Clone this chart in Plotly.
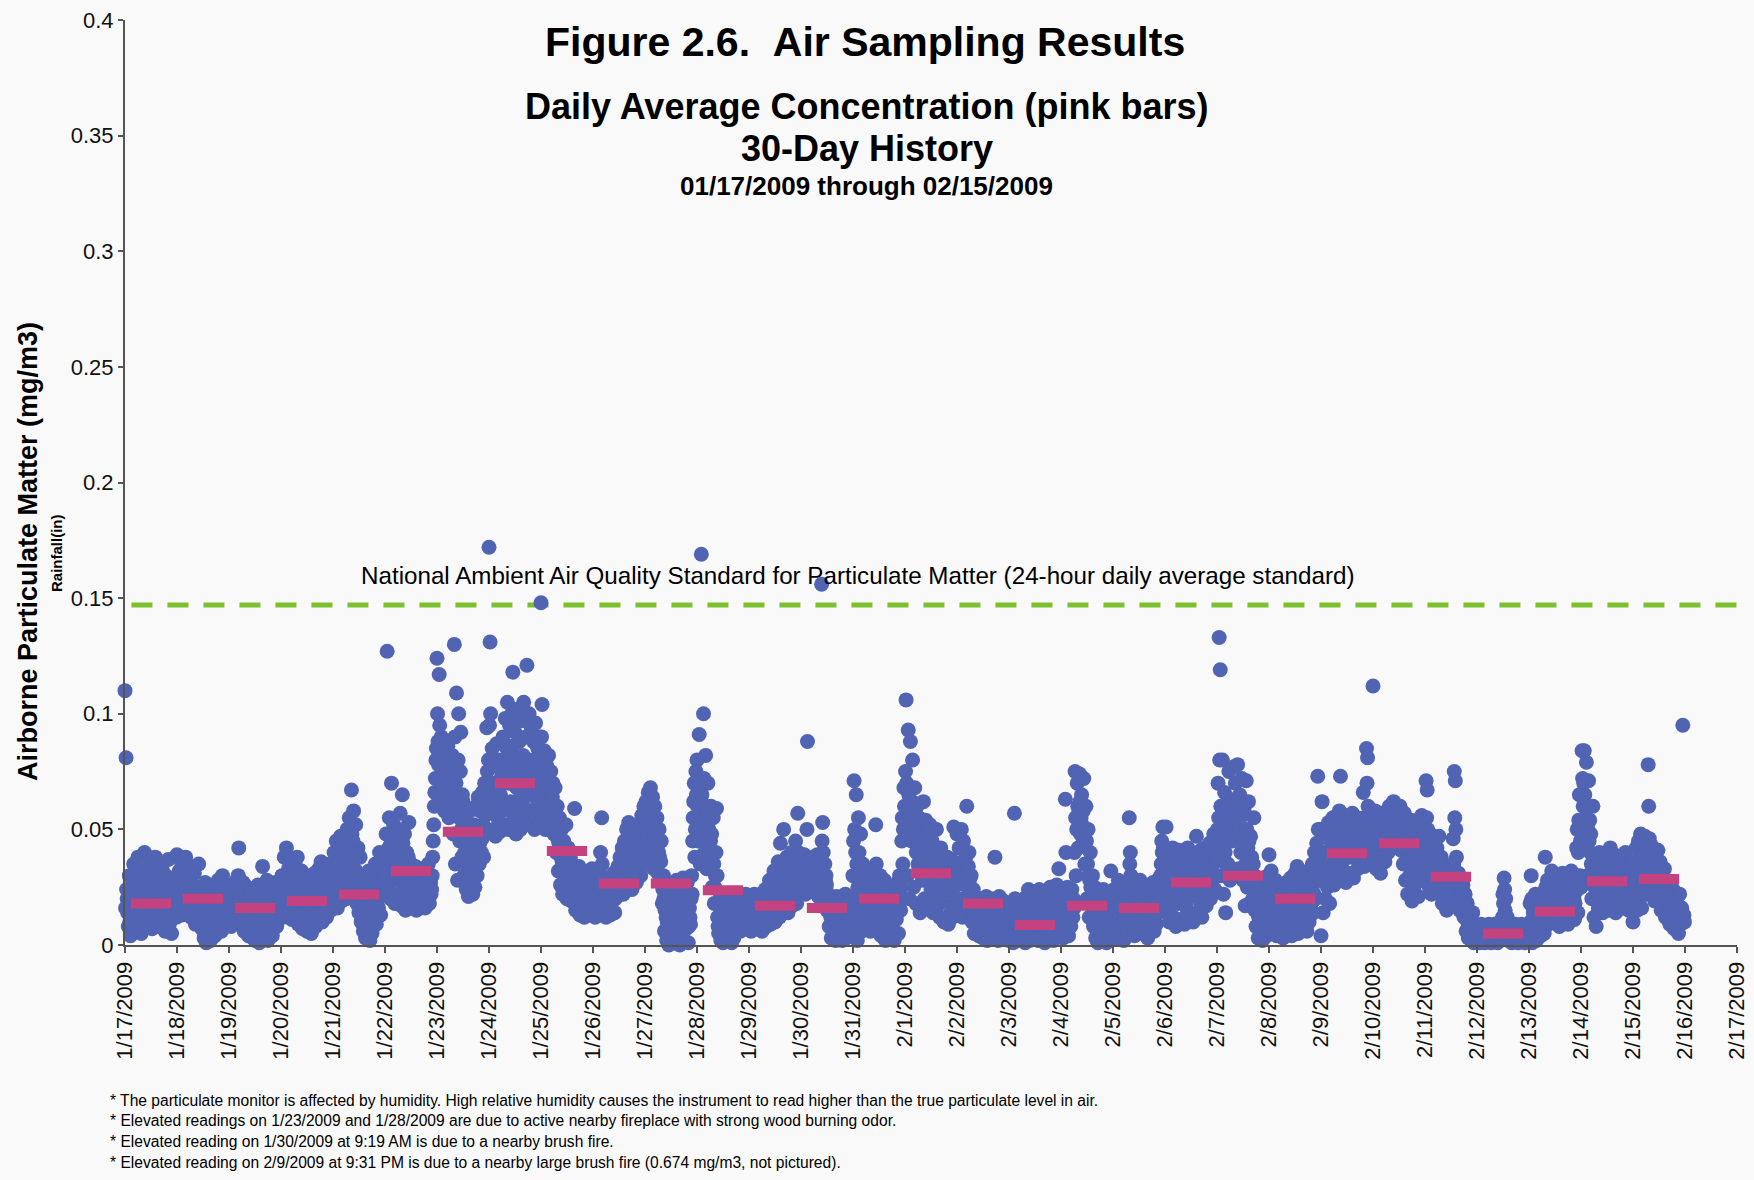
import plotly.graph_objects as go
import pandas as pd

# ---------------- data ----------------
tick_labels = ["1/17/2009", "1/18/2009", "1/19/2009", "1/20/2009", "1/21/2009", "1/22/2009",
               "1/23/2009", "1/24/2009", "1/25/2009", "1/26/2009", "1/27/2009", "1/28/2009",
               "1/29/2009", "1/30/2009", "1/31/2009", "2/1/2009", "2/2/2009", "2/3/2009",
               "2/4/2009", "2/5/2009", "2/6/2009", "2/7/2009", "2/8/2009", "2/9/2009",
               "2/10/2009", "2/11/2009", "2/12/2009", "2/13/2009", "2/14/2009", "2/15/2009",
               "2/16/2009", "2/17/2009"]

# daily average concentration (mg/m3), 1/17 .. 2/15 (pink bars)
daily_avg = [0.018, 0.020, 0.016, 0.019, 0.0218, 0.032, 0.049, 0.070, 0.0406, 0.0266,
             0.0266, 0.0237, 0.017, 0.016, 0.020, 0.031, 0.018, 0.0087, 0.017, 0.016,
             0.027, 0.030, 0.020, 0.0397, 0.044, 0.0295, 0.005, 0.0145, 0.0276, 0.0285]

# readings on the hour / half hour, micrograms/m3 (48 per day), 1/17 .. 2/15
readings_ug = [
    [110, 81, 20, 8, 30, 4, 25, 12, 35, 6, 28, 15, 38, 10, 32, 5, 26, 14, 40, 9, 30, 18, 36, 11,
     27, 7, 33, 13, 38, 16, 29, 8, 24, 12, 34, 10, 31, 6, 26, 14, 37, 9, 22, 5, 29, 12, 20, 15],
    [39, 14, 32, 18, 36, 13, 28, 20, 38, 15, 30, 17, 34, 12, 26, 16, 31, 9, 24, 13, 35, 11, 22, 7,
     18, 3, 27, 1, 14, 5, 20, 2, 11, 6, 24, 4, 16, 8, 28, 10, 21, 6, 30, 12, 25, 9, 19, 14],
    [12, 20, 8, 26, 15, 22, 10, 28, 18, 42, 14, 24, 9, 27, 6, 21, 12, 25, 4, 18, 8, 23, 3, 16,
     2, 20, 5, 26, 1, 17, 7, 34, 3, 22, 6, 28, 2, 18, 9, 25, 4, 21, 11, 27, 8, 20, 13, 24],
    [15, 30, 12, 38, 18, 42, 14, 33, 20, 36, 11, 29, 17, 35, 13, 38, 9, 27, 16, 32, 7, 24, 12, 30,
     6, 22, 10, 28, 5, 19, 13, 31, 8, 25, 11, 33, 14, 36, 10, 30, 17, 34, 12, 28, 18, 35, 15, 31],
    [18, 40, 22, 45, 16, 36, 25, 47, 19, 38, 28, 44, 20, 50, 30, 55, 24, 67, 35, 58, 27, 52, 18, 42,
     14, 38, 10, 30, 6, 26, 3, 20, 8, 32, 2, 17, 5, 28, 12, 35, 9, 30, 16, 40, 13, 33, 22, 38],
    [30, 48, 127, 25, 55, 20, 70, 33, 52, 18, 45, 28, 50, 22, 57, 17, 65, 30, 48, 15, 40, 24, 53, 19,
     35, 16, 30, 21, 34, 15, 28, 19, 33, 17, 26, 22, 32, 16, 29, 20, 35, 18, 27, 24, 38, 52, 66, 80],
    [124, 88, 117, 72, 90, 65, 84, 58, 80, 62, 86, 55, 78, 60, 82, 48, 130, 35, 109, 28, 100, 45, 92, 38,
     62, 30, 55, 24, 48, 21, 58, 26, 44, 22, 52, 25, 60, 30, 64, 35, 58, 40, 66, 38, 70, 48, 94, 60],
    [172, 131, 60, 85, 50, 78, 47, 87, 55, 80, 49, 72, 58, 90, 52, 98, 60, 105, 50, 95, 62, 100, 118, 55,
     92, 48, 102, 57, 88, 50, 97, 62, 105, 53, 90, 121, 58, 100, 52, 94, 65, 88, 50, 96, 60, 85, 55, 90],
    [148, 104, 55, 84, 50, 78, 58, 82, 52, 75, 60, 70, 48, 68, 40, 60, 32, 55, 26, 50, 22, 45, 28, 52,
     20, 42, 24, 38, 19, 35, 23, 59, 15, 30, 18, 34, 13, 28, 16, 32, 12, 25, 17, 30, 14, 27, 19, 33],
    [14, 28, 12, 25, 18, 30, 13, 40, 55, 22, 15, 27, 12, 24, 16, 29, 13, 26, 19, 31, 14, 28, 21, 34,
     23, 38, 26, 42, 22, 45, 30, 50, 25, 53, 28, 46, 24, 40, 32, 48, 27, 44, 35, 52, 30, 56, 38, 60],
    [40, 62, 35, 66, 45, 68, 38, 64, 33, 60, 42, 55, 31, 50, 28, 45, 18, 30, 6, 25, 2, 20, 0, 15,
     4, 26, 1, 22, 8, 28, 3, 18, 0, 24, 5, 29, 2, 21, 7, 27, 1, 16, 9, 30, 45, 62, 38, 75],
    [80, 45, 91, 35, 169, 60, 100, 40, 82, 33, 70, 50, 38, 60, 25, 55, 18, 30, 59, 12, 5, 20, 2, 16,
     1, 18, 4, 22, 2, 15, 6, 20, 1, 17, 3, 21, 8, 22, 10, 19, 6, 21, 12, 18, 7, 22, 9, 20],
    [8, 20, 6, 18, 10, 22, 7, 17, 12, 21, 9, 19, 6, 22, 11, 24, 8, 20, 13, 28, 9, 25, 14, 32,
     10, 30, 16, 36, 12, 44, 18, 34, 50, 15, 28, 38, 14, 33, 20, 40, 17, 36, 22, 45, 18, 57, 25, 39],
    [24, 36, 28, 39, 22, 30, 88, 37, 25, 34, 29, 38, 23, 35, 27, 39, 21, 33, 28, 156, 53, 24, 35, 30,
     15, 22, 8, 18, 3, 20, 6, 16, 2, 21, 10, 14, 4, 19, 2, 13, 7, 22, 3, 17, 9, 12, 5, 20],
    [30, 71, 10, 65, 2, 55, 15, 48, 6, 35, 20, 28, 8, 26, 12, 31, 6, 24, 14, 29, 9, 52, 11, 27,
     7, 30, 4, 22, 10, 28, 2, 19, 6, 25, 3, 16, 8, 24, 2, 20, 11, 27, 5, 30, 15, 45, 35, 68],
    [50, 106, 30, 93, 20, 88, 45, 80, 25, 68, 18, 60, 35, 55, 14, 50, 28, 62, 20, 54, 16, 48, 30, 52,
     24, 45, 14, 40, 20, 50, 17, 36, 12, 42, 22, 38, 10, 35, 19, 38, 9, 33, 14, 37, 12, 51, 18, 34],
    [48, 14, 42, 20, 50, 12, 45, 18, 38, 60, 25, 40, 16, 30, 10, 24, 5, 21, 12, 18, 4, 20, 8, 15,
     3, 19, 9, 21, 2, 16, 7, 20, 4, 14, 10, 38, 6, 17, 2, 21, 9, 15, 3, 19, 8, 13, 11, 18],
    [2, 12, 5, 15, 1, 57, 10, 3, 14, 6, 11, 2, 16, 4, 20, 1, 18, 7, 24, 2, 21, 5, 19, 3,
     22, 6, 17, 2, 24, 4, 20, 8, 15, 1, 23, 5, 18, 3, 25, 7, 21, 2, 16, 9, 26, 4, 33, 10],
    [6, 22, 3, 18, 63, 10, 25, 4, 20, 8, 24, 12, 16, 75, 30, 70, 42, 74, 48, 65, 44, 72, 35, 60,
     20, 50, 12, 40, 18, 30, 8, 25, 3, 19, 1, 22, 6, 17, 2, 24, 9, 15, 1, 21, 5, 18, 32, 11],
    [8, 24, 3, 20, 12, 28, 5, 22, 10, 26, 2, 18, 14, 25, 6, 55, 40, 21, 9, 27, 4, 19, 11, 24,
     7, 28, 13, 22, 5, 26, 10, 20, 3, 25, 8, 23, 12, 27, 6, 21, 9, 28, 14, 24, 30, 45, 51, 35],
    [40, 51, 15, 38, 10, 35, 20, 42, 12, 30, 8, 37, 18, 41, 11, 33, 22, 40, 9, 36, 16, 42, 13, 29,
     21, 39, 10, 34, 25, 47, 14, 38, 19, 41, 12, 35, 23, 42, 17, 37, 26, 44, 20, 40, 28, 48, 24, 45],
    [40, 70, 133, 119, 30, 80, 22, 66, 14, 60, 35, 75, 28, 62, 45, 77, 30, 70, 50, 78, 33, 65, 40, 72,
     28, 58, 17, 71, 25, 62, 18, 47, 38, 20, 55, 15, 8, 24, 3, 18, 6, 26, 2, 15, 9, 22, 4, 30],
    [39, 10, 32, 5, 25, 12, 28, 4, 20, 14, 26, 7, 18, 3, 22, 11, 27, 6, 20, 15, 29, 4, 24, 9,
     31, 12, 34, 5, 26, 17, 30, 8, 22, 13, 28, 6, 32, 10, 25, 18, 35, 14, 40, 20, 44, 73, 30, 50],
    [4, 62, 14, 40, 20, 48, 25, 53, 18, 45, 30, 55, 26, 50, 32, 56, 28, 58, 73, 35, 54, 30, 52, 27,
     40, 56, 31, 50, 38, 57, 29, 53, 42, 55, 33, 48, 36, 54, 45, 66, 34, 52, 85, 81, 44, 57, 38, 55],
    [112, 40, 58, 33, 52, 37, 56, 31, 50, 42, 57, 36, 45, 58, 40, 60, 48, 56, 44, 62, 50, 59, 42, 57,
     46, 60, 41, 55, 35, 57, 28, 50, 22, 48, 30, 54, 19, 45, 25, 52, 33, 47, 21, 49, 28, 56, 35, 48],
    [30, 71, 67, 44, 25, 48, 22, 40, 28, 46, 24, 42, 30, 47, 23, 38, 18, 35, 20, 32, 15, 34, 22, 30,
     17, 33, 46, 75, 71, 38, 19, 31, 15, 28, 21, 26, 12, 22, 6, 18, 3, 13, 8, 5, 14, 1, 9, 4],
    [2, 8, 1, 6, 9, 3, 7, 1, 5, 8, 2, 9, 4, 1, 7, 3, 9, 2, 6, 1, 8, 4, 10, 3,
     22, 29, 15, 6, 12, 2, 8, 4, 1, 7, 3, 9, 2, 6, 1, 8, 4, 9, 3, 7, 1, 5, 8, 2],
    [3, 18, 30, 1, 14, 6, 22, 2, 16, 8, 20, 4, 12, 21, 5, 38, 15, 28, 9, 25, 14, 32, 10, 27,
     16, 30, 11, 26, 8, 24, 13, 31, 17, 28, 12, 25, 9, 27, 15, 32, 18, 29, 11, 23, 42, 14, 54, 30],
    [25, 84, 60, 84, 42, 79, 30, 71, 54, 48, 20, 60, 12, 38, 8, 35, 16, 40, 20, 33, 14, 37, 22, 30,
     18, 36, 15, 42, 24, 34, 17, 39, 14, 31, 26, 38, 19, 35, 16, 32, 25, 40, 21, 34, 15, 28, 23, 36],
    [10, 32, 18, 42, 15, 45, 20, 48, 16, 44, 25, 47, 22, 40, 78, 46, 24, 43, 28, 38, 19, 35, 26, 41,
     20, 36, 15, 30, 22, 33, 12, 28, 18, 25, 9, 27, 14, 24, 7, 21, 12, 18, 5, 22, 9, 16, 95, 13],
]

# readings at quarter past / quarter to, micrograms/m3 (48 per day), 1/17 .. 2/15
readings_ug_q = [
    [16, 24, 14, 20, 10, 18, 22, 15, 19, 11, 23, 17, 21, 27, 18, 24, 16, 30, 22, 26, 14, 20, 25, 19,
     17, 22, 26, 20, 28, 23, 18, 15, 21, 17, 25, 19, 18, 24, 16, 21, 26, 15, 13, 19, 16, 22, 17, 12],
    [25, 22, 27, 24, 29, 21, 33, 26, 24, 22, 27, 25, 22, 19, 25, 20, 18, 16, 21, 19, 24, 17, 14, 12,
     9, 12, 8, 15, 10, 7, 13, 8, 16, 11, 9, 12, 12, 18, 15, 20, 14, 17, 22, 19, 15, 21, 17, 18],
    [16, 14, 18, 19, 12, 17, 20, 22, 30, 19, 17, 15, 16, 12, 15, 18, 14, 10, 16, 12, 15, 10, 12, 8,
     11, 8, 14, 12, 10, 14, 21, 18, 12, 15, 16, 11, 10, 13, 16, 12, 14, 18, 16, 19, 13, 17, 18, 20],
    [22, 20, 26, 28, 30, 24, 22, 26, 27, 19, 21, 23, 25, 21, 26, 20, 18, 21, 24, 19, 15, 18, 20, 17,
     14, 16, 18, 13, 12, 21, 20, 17, 16, 22, 19, 24, 24, 21, 20, 23, 26, 22, 18, 24, 26, 22, 23, 25],
    [28, 32, 30, 26, 30, 33, 35, 30, 29, 34, 36, 32, 36, 40, 42, 38, 46, 48, 45, 40, 39, 32, 30, 26,
     25, 22, 19, 16, 15, 12, 11, 14, 19, 12, 9, 10, 16, 20, 22, 24, 18, 23, 26, 28, 22, 27, 30, 27],
    [38, 40, 35, 42, 37, 44, 40, 36, 30, 32, 36, 40, 35, 42, 38, 30, 44, 36, 28, 26, 32, 38, 34, 27,
     25, 22, 26, 24, 21, 23, 25, 26, 22, 24, 20, 27, 24, 22, 25, 27, 23, 26, 22, 30, 45, 60, 72, 85],
    [100, 78, 95, 70, 76, 73, 68, 70, 72, 66, 70, 68, 70, 72, 65, 75, 90, 70, 60, 80, 55, 75, 50, 65,
     45, 40, 38, 35, 30, 34, 40, 32, 30, 36, 38, 33, 42, 45, 48, 44, 50, 46, 52, 50, 56, 62, 75, 80],
    [95, 100, 70, 65, 62, 58, 64, 70, 68, 62, 65, 75, 70, 75, 80, 72, 85, 78, 70, 82, 75, 86, 80, 70,
     75, 68, 80, 72, 75, 65, 78, 82, 70, 76, 68, 100, 75, 80, 70, 78, 74, 68, 72, 80, 73, 70, 66, 75],
    [90, 75, 68, 64, 70, 62, 67, 65, 66, 62, 64, 58, 58, 55, 50, 46, 44, 40, 38, 36, 34, 32, 37, 40,
     30, 32, 28, 30, 27, 28, 26, 22, 24, 22, 25, 23, 20, 22, 24, 22, 18, 20, 23, 22, 20, 21, 24, 22],
    [20, 22, 18, 20, 24, 22, 26, 30, 35, 18, 21, 20, 17, 20, 22, 21, 19, 22, 24, 25, 20, 23, 26, 28,
     30, 32, 34, 33, 35, 36, 40, 42, 38, 40, 37, 36, 32, 34, 38, 40, 36, 38, 42, 46, 42, 48, 50, 55],
    [50, 54, 48, 56, 52, 58, 50, 54, 46, 50, 48, 42, 40, 38, 36, 30, 24, 20, 15, 12, 10, 8, 6, 8,
     12, 14, 10, 12, 16, 18, 10, 8, 12, 14, 16, 18, 10, 12, 15, 18, 8, 12, 20, 22, 55, 70, 50, 65],
    [60, 55, 70, 50, 65, 48, 72, 55, 60, 45, 58, 42, 45, 48, 40, 35, 25, 40, 30, 8, 12, 9, 6, 10,
     8, 10, 12, 9, 8, 10, 12, 11, 9, 8, 12, 10, 14, 15, 13, 16, 14, 12, 15, 14, 13, 16, 15, 14],
    [13, 12, 14, 11, 15, 14, 12, 13, 16, 14, 13, 12, 14, 16, 17, 15, 14, 18, 20, 18, 17, 19, 22, 20,
     20, 22, 24, 25, 28, 30, 26, 28, 32, 30, 22, 26, 24, 26, 28, 30, 27, 29, 32, 34, 30, 40, 32, 30],
    [30, 32, 33, 31, 34, 50, 33, 30, 31, 32, 33, 34, 30, 31, 33, 32, 28, 30, 32, 45, 40, 30, 28, 26,
     20, 18, 14, 12, 10, 12, 11, 9, 10, 13, 15, 9, 12, 10, 8, 11, 14, 12, 10, 13, 11, 9, 14, 12],
    [45, 50, 40, 35, 25, 40, 30, 35, 20, 25, 24, 18, 16, 18, 20, 22, 15, 18, 20, 24, 18, 35, 18, 20,
     18, 16, 14, 12, 17, 15, 10, 12, 15, 14, 10, 11, 14, 12, 11, 14, 17, 16, 15, 20, 25, 55, 50, 60],
    [75, 70, 60, 65, 55, 60, 62, 58, 50, 45, 40, 42, 44, 40, 35, 38, 40, 42, 36, 38, 34, 36, 40, 38,
     35, 30, 28, 30, 32, 34, 28, 26, 25, 30, 28, 26, 22, 24, 26, 28, 22, 24, 25, 26, 28, 35, 30, 26],
    [30, 32, 28, 35, 30, 36, 28, 32, 26, 30, 34, 28, 22, 20, 18, 15, 12, 14, 10, 12, 10, 14, 12, 10,
     10, 12, 14, 13, 9, 11, 13, 12, 10, 9, 11, 13, 20, 12, 10, 12, 14, 11, 9, 12, 13, 11, 10, 8],
    [6, 8, 10, 8, 6, 20, 7, 9, 8, 10, 7, 9, 10, 12, 10, 12, 11, 13, 12, 14, 12, 11, 13, 12,
     14, 12, 10, 13, 12, 14, 13, 12, 10, 14, 12, 13, 11, 14, 12, 15, 13, 12, 11, 14, 16, 15, 20, 14],
    [14, 12, 15, 10, 40, 16, 14, 12, 15, 14, 16, 20, 40, 55, 50, 60, 58, 62, 55, 52, 58, 60, 50, 45,
     35, 30, 28, 25, 22, 20, 16, 14, 12, 10, 12, 14, 12, 10, 14, 12, 10, 8, 12, 14, 11, 10, 20, 16],
    [16, 14, 12, 15, 18, 20, 14, 16, 18, 15, 12, 14, 18, 16, 14, 35, 30, 15, 16, 18, 14, 12, 16, 18,
     16, 18, 17, 15, 14, 16, 15, 12, 14, 16, 15, 17, 18, 16, 15, 14, 18, 19, 20, 22, 35, 40, 42, 40],
    [30, 32, 28, 25, 22, 24, 30, 28, 25, 22, 20, 26, 28, 30, 24, 26, 30, 28, 22, 26, 30, 32, 24, 22,
     28, 30, 24, 28, 35, 36, 26, 28, 30, 32, 25, 28, 32, 34, 30, 28, 35, 36, 32, 34, 38, 40, 36, 38],
    [50, 55, 80, 60, 50, 55, 45, 40, 35, 45, 50, 55, 45, 48, 55, 60, 50, 55, 62, 64, 50, 55, 58, 60,
     45, 40, 35, 50, 42, 45, 30, 32, 28, 35, 30, 25, 15, 14, 12, 10, 14, 16, 10, 8, 14, 16, 12, 18],
    [25, 20, 18, 15, 14, 18, 16, 12, 14, 18, 15, 12, 10, 12, 14, 16, 18, 15, 14, 18, 20, 15, 16, 18,
     20, 22, 24, 18, 20, 22, 24, 18, 16, 20, 22, 18, 22, 20, 18, 24, 26, 22, 28, 30, 32, 50, 35, 40],
    [30, 40, 28, 32, 34, 36, 38, 40, 36, 38, 42, 44, 40, 42, 44, 46, 42, 45, 50, 44, 42, 40, 44, 38,
     45, 48, 42, 44, 46, 48, 42, 44, 48, 46, 42, 40, 45, 44, 50, 55, 42, 45, 70, 60, 50, 48, 46, 45],
    [58, 45, 48, 42, 44, 46, 48, 42, 44, 48, 50, 45, 50, 52, 48, 54, 52, 50, 52, 55, 54, 52, 50, 48,
     52, 54, 50, 48, 46, 45, 40, 38, 35, 38, 40, 42, 32, 35, 38, 40, 42, 38, 34, 36, 38, 42, 44, 40],
    [40, 55, 50, 35, 32, 36, 30, 32, 35, 38, 34, 32, 36, 38, 32, 30, 26, 28, 25, 26, 22, 24, 26, 24,
     22, 24, 35, 55, 50, 28, 25, 22, 20, 22, 24, 20, 18, 16, 12, 10, 8, 7, 5, 8, 6, 4, 5, 6],
    [5, 4, 3, 5, 4, 6, 4, 3, 5, 4, 6, 5, 5, 3, 4, 6, 5, 4, 3, 5, 6, 7, 5, 12,
     18, 24, 20, 10, 8, 5, 4, 6, 5, 4, 5, 6, 4, 3, 5, 4, 6, 5, 4, 3, 5, 4, 3, 5],
    [8, 10, 20, 6, 8, 10, 12, 8, 10, 12, 14, 10, 15, 16, 14, 25, 18, 20, 16, 18, 20, 22, 18, 20,
     20, 22, 18, 20, 16, 18, 20, 22, 24, 20, 18, 20, 16, 18, 20, 22, 24, 20, 18, 30, 50, 40, 65, 45],
    [50, 72, 70, 65, 55, 60, 50, 45, 40, 35, 32, 30, 25, 28, 22, 26, 28, 30, 26, 24, 25, 28, 30, 26,
     26, 28, 24, 30, 32, 28, 26, 28, 24, 22, 30, 28, 27, 26, 24, 28, 30, 32, 28, 26, 22, 24, 28, 30],
    [20, 25, 28, 30, 32, 34, 36, 38, 32, 35, 38, 36, 34, 32, 60, 36, 34, 32, 34, 30, 28, 30, 32, 30,
     28, 26, 24, 22, 25, 24, 20, 22, 20, 18, 16, 18, 18, 16, 14, 15, 14, 12, 10, 14, 12, 11, 12, 10],
]

naaqs_standard = 0.147

# ---------------- derived ----------------
day_starts = pd.date_range("2009-01-17", periods=len(daily_avg), freq="D")
tick_dates = pd.date_range("2009-01-17", periods=len(tick_labels), freq="D")
one_day = pd.Timedelta(days=1)

times, values = [], []
for d, row_a, row_b in zip(day_starts, readings_ug, readings_ug_q):
    for j, v in enumerate(row_a):
        times.append(d + one_day * (j / len(row_a)))
        values.append(v / 1000.0)
    for j, v in enumerate(row_b):
        times.append(d + one_day * ((j + 0.5) / len(row_b)))
        values.append(v / 1000.0)

bar_x, bar_y = [], []
for d, avg in zip(day_starts, daily_avg):
    bar_x += [d + pd.Timedelta(hours=2.7), d + pd.Timedelta(hours=21.3), None]
    bar_y += [avg, avg, None]

fig = go.Figure()
fig.add_trace(go.Scatter(x=times, y=values, mode="markers",
                         marker=dict(size=15, color="#5163B3", line=dict(width=0)),
                         cliponaxis=False, hoverinfo="x+y"))
fig.add_trace(go.Scatter(x=bar_x, y=bar_y, mode="lines",
                         line=dict(color="#C4427F", width=10),
                         cliponaxis=False, hoverinfo="skip"))

fig.add_shape(type="line", xref="paper", yref="y", x0=0.004, x1=1.005,
              y0=naaqs_standard, y1=naaqs_standard, layer="below",
              line=dict(color="#7CC02E", width=5, dash="21px,15px"))

FONT = "Liberation Sans, Arial, Helvetica, sans-serif"
L, R, T, B = 125, 17, 20, 235
W, H = 1754, 1180
pw, ph = W - L - R, H - T - B


def px(xp):
    return (xp - L) / pw


def py(yp):
    return (H - B - yp) / ph


def ann(text, x, y, size, xanchor="center", angle=0, color="#000"):
    fig.add_annotation(text=text, xref="paper", yref="paper", x=x, y=y,
                       xanchor=xanchor, yanchor="middle", showarrow=False,
                       textangle=angle, font=dict(size=size, family=FONT, color=color))


ann("<b>Figure 2.6.\u00a0\u00a0Air Sampling Results</b>", px(865), py(42), 41)
ann("<b>Daily Average Concentration (pink bars)</b>", px(867), py(106), 36)
ann("<b>30-Day History</b>", px(867), py(148), 36)
ann("<b>01/17/2009 through 02/15/2009</b>", px(866), py(186), 26)
ann("National Ambient Air Quality Standard for Particulate Matter (24-hour daily average standard)",
    px(858), py(575), 24.2)
ann("<b>Airborne Particulate Matter (mg/m3)</b>", px(28), py(552), 27, angle=-90)
ann("<b>Rainfall(in)</b>", px(56), py(553), 15, angle=-90)

notes = [
    "* The particulate monitor is affected by humidity. High relative humidity causes the instrument to read higher than the true particulate level in air.",
    "* Elevated readings on 1/23/2009 and 1/28/2009 are due to active nearby fireplace with strong wood burning odor.",
    "* Elevated reading on 1/30/2009 at 9:19 AM is due to a nearby brush fire.",
    "* Elevated reading on 2/9/2009 at 9:31 PM is due to a nearby large brush fire (0.674 mg/m3, not pictured).",
]
for i, t in enumerate(notes):
    ann(t, px(108), py(1100 + 20.7 * i), 15.6, xanchor="left")

fig.update_layout(
    width=W, height=H,
    margin=dict(l=L, r=R, t=T, b=B, autoexpand=False),
    paper_bgcolor="#F9F9F9", plot_bgcolor="#F9F9F9",
    showlegend=False,
    font=dict(family=FONT, color="#111"),
    xaxis=dict(type="date", range=[tick_dates[0], tick_dates[-1]],
               tickvals=tick_dates, ticktext=tick_labels, tickangle=-90,
               ticks="outside", ticklen=6, tickwidth=1.5, tickcolor="#555",
               showline=True, linecolor="#555", linewidth=2,
               showgrid=False, zeroline=False, automargin=False,
               tickfont=dict(size=22, family=FONT, color="#111")),
    yaxis=dict(range=[0, 0.4], tick0=0, dtick=0.05,
               ticks="outside", ticklen=5, tickwidth=1.5, tickcolor="#555",
               showline=True, linecolor="#555", linewidth=2,
               showgrid=False, zeroline=False, automargin=False,
               tickfont=dict(size=22, family=FONT, color="#111")),
)

fig.write_html("out.html",
               config={"displayModeBar": False},
               post_script="document.body.style.margin='0';"
                           "document.body.style.background='#F9F9F9';")
